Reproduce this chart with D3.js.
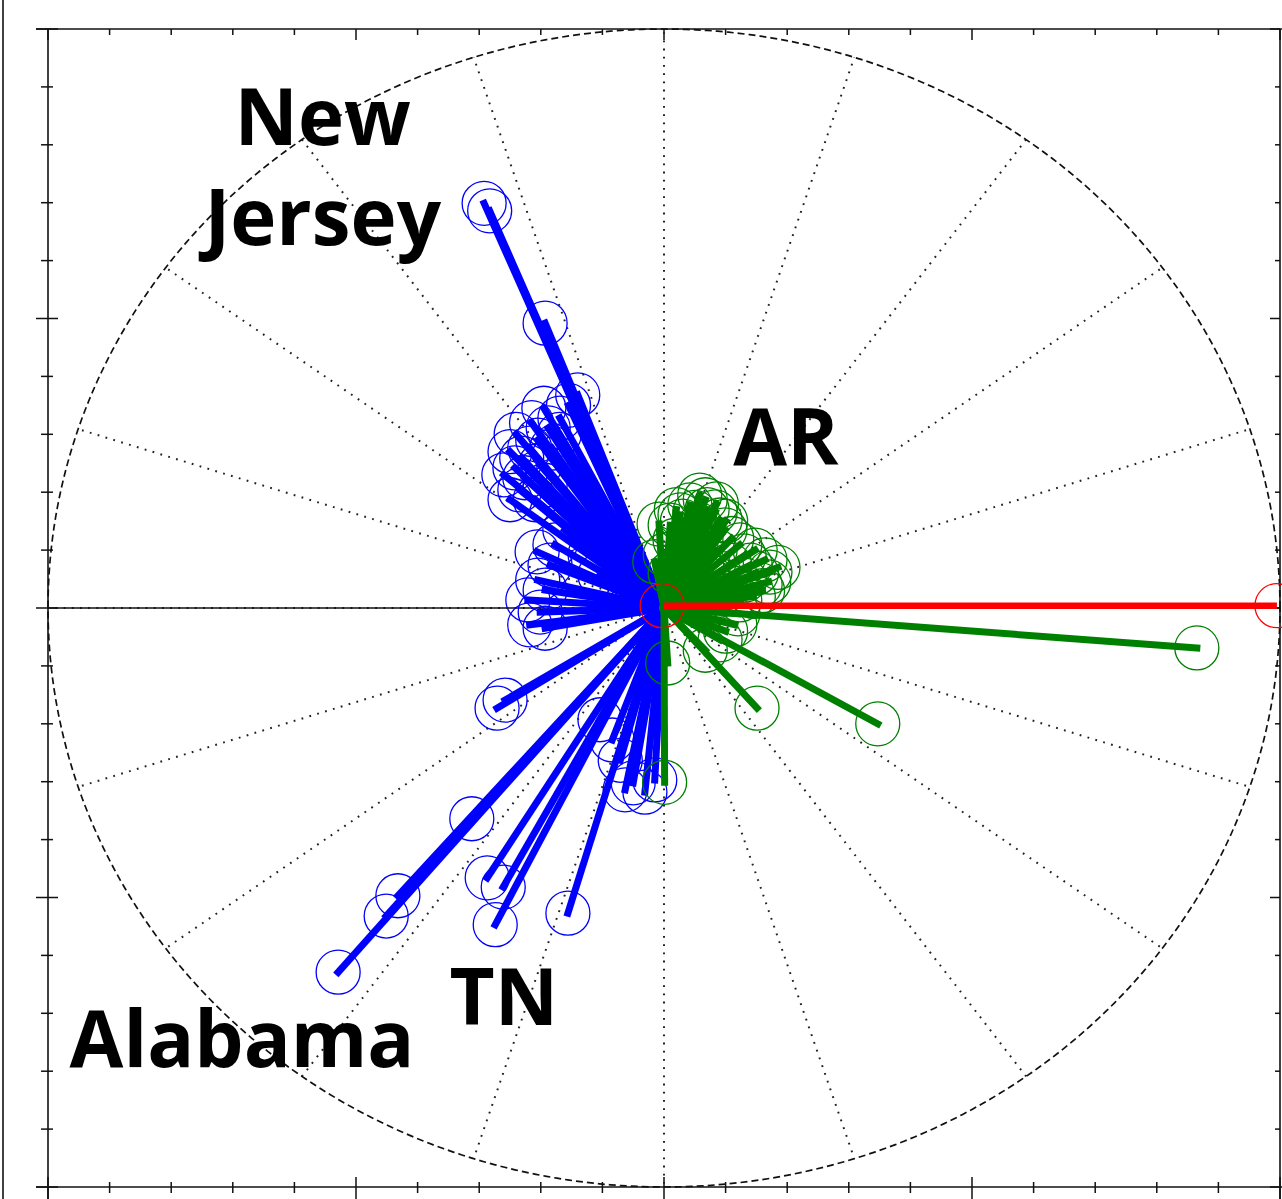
<!DOCTYPE html>
<html>
<head>
<meta charset="utf-8">
<script src="https://cdn.jsdelivr.net/npm/d3@7"></script>
<style>
  html, body { margin: 0; padding: 0; background: #fff; }
  svg { display: block; }
  .lbl { font-family: "Open Sans", "Noto Sans", sans-serif; font-weight: 700; fill: #000; }
</style>
</head>
<body>
<svg id="chart" width="1282" height="1199"></svg>
<script>
// Vector endpoints (unit-circle coordinates), one array per coordinate and group
const blueX = [-0.292,-0.283,-0.193,-0.140,-0.169,-0.188,-0.205,-0.218,-0.231,-0.242,-0.226,-0.201,-0.182,-0.234,-0.209,-0.193,-0.250,
               -0.240,-0.260,-0.250,-0.215,-0.195,-0.170,-0.155,
               -0.206,-0.185,-0.205,-0.193,-0.221,-0.201,-0.218,-0.193,-0.177,-0.161,-0.104,-0.120,
               -0.271,-0.258,-0.312,-0.432,-0.451,-0.529,-0.287,-0.261,-0.274,-0.156,-0.050,-0.031,-0.063,-0.084,-0.071,-0.015,-0.104];
const blueY = [ 0.699, 0.686, 0.492, 0.368, 0.328, 0.311, 0.290, 0.276, 0.259, 0.242, 0.225, 0.247, 0.276, 0.204, 0.187, 0.212, 0.187,
                0.300, 0.230, 0.270, 0.320, 0.345, 0.300, 0.350,
                0.097, 0.074, 0.048, 0.031, 0.014,-0.007,-0.029,-0.035, 0.109, 0.135, 0.057, 0.092,
               -0.173,-0.159,-0.364,-0.497,-0.532,-0.629,-0.466,-0.482,-0.547,-0.527,-0.302,-0.318,-0.314,-0.228,-0.263,-0.297,-0.193];

const greenX = [0.865, 0.347, 0.151, 0.001, 0.006, 0.115, 0.091, 0.067,
                0.042, 0.067, 0.026, 0.083, 0.058, 0.099, 0.042, 0.123, 0.148, 0.164, 0.172, 0.156, 0.131, 0.107,
                0.083, 0.018, 0.002, 0.034, 0.075, 0.091, 0.050, 0.123, 0.140, 0.010, 0.091, 0.058,
                0.020, 0.050, 0.070, 0.085, 0.030, 0.060, 0.100, 0.110, 0.130, 0.150, 0.160, 0.145,-0.008,-0.015,
                0.010, 0.120, 0.100, 0.170, 0.185];
const greenY = [-0.069,-0.200,-0.173,-0.301,-0.095,-0.029,-0.055,-0.073,
                 0.178, 0.187, 0.161, 0.166, 0.143, 0.135, 0.126, 0.109, 0.100, 0.083, 0.062, 0.040, 0.048, 0.074,
                 0.100, 0.117, 0.092, 0.083, 0.048, 0.022, 0.031, 0.014, 0.074, 0.143, 0.152, 0.195,
                 0.170, 0.165, 0.170, 0.180, 0.150, 0.120, 0.150, 0.120, 0.090, 0.060, 0.030, 0.020, 0.145, 0.080,
                 0.060,-0.010,-0.040, 0.045, 0.070];

const redX = [0.995];
const redY = [0.004];

// Reference grid: radial spokes every 18 degrees on the unit circle
const spokeAngles = d3.range(0, 360, 18);

const labels = [
  { text: "New",    x: -0.554, y: 0.800 },
  { text: "Jersey", x: -0.554, y: 0.627 },
  { text: "AR",     x:  0.198, y: 0.247 },
  { text: "TN",     x: -0.260, y: -0.720 },
  { text: "Alabama",x: -0.685, y: -0.793 }
];

const svg = d3.select("#chart");
const x = d3.scaleLinear().domain([-1, 1]).range([48, 1280]);
const y = d3.scaleLinear().domain([-1, 1]).range([1187, 29]);
const ink = "#111";

// outer page border
svg.append("line").attr("x1", 3).attr("x2", 3).attr("y1", 0).attr("y2", 1199)
  .attr("stroke", ink).attr("stroke-width", 1.6);

// axes frame
svg.append("line").attr("x1", 36).attr("x2", 1282).attr("y1", y(1)).attr("y2", y(1)).attr("stroke", ink).attr("stroke-width", 1.6);
svg.append("line").attr("x1", 36).attr("x2", 1282).attr("y1", y(-1)).attr("y2", y(-1)).attr("stroke", ink).attr("stroke-width", 1.6);
svg.append("line").attr("x1", x(-1)).attr("x2", x(-1)).attr("y1", y(1)).attr("y2", 1199).attr("stroke", ink).attr("stroke-width", 1.6);
svg.append("line").attr("x1", x(1)).attr("x2", x(1)).attr("y1", y(1)).attr("y2", 1199).attr("stroke", ink).attr("stroke-width", 1.6);

const tickVals = d3.range(-10, 11).map(d => d / 10);
const isMajor = v => Math.abs(Math.round(v * 10)) % 5 === 0;
const ticks = svg.append("g").attr("stroke", ink).attr("stroke-width", 1.5);
tickVals.forEach(v => {
  const m = isMajor(v);
  // top (inward)
  ticks.append("line").attr("x1", x(v)).attr("x2", x(v)).attr("y1", y(1)).attr("y2", y(1) + (m ? 11 : 6));
  // bottom (crossing)
  ticks.append("line").attr("x1", x(v)).attr("x2", x(v)).attr("y1", y(-1) - (m ? 10 : 5)).attr("y2", y(-1) + (m ? 12 : 6));
  // left (crossing)
  ticks.append("line").attr("y1", y(v)).attr("y2", y(v)).attr("x1", x(-1) - (m ? 12 : 7)).attr("x2", x(-1) + (m ? 10 : 5));
  // right (inward)
  ticks.append("line").attr("y1", y(v)).attr("y2", y(v)).attr("x1", x(1)).attr("x2", x(1) - (m ? 10 : 5));
});

// dotted spokes
const grid = svg.append("g");
spokeAngles.forEach(a => {
  const r = a * Math.PI / 180;
  grid.append("line")
    .attr("x1", x(0)).attr("y1", y(0))
    .attr("x2", x(Math.cos(r))).attr("y2", y(Math.sin(r)))
    .attr("stroke", "#222").attr("stroke-width", 2)
    .attr("stroke-dasharray", "1.8 6.4");
});

// dashed unit circle
const circ = d3.range(0, 361).map(a => [Math.cos(a * Math.PI / 180), Math.sin(a * Math.PI / 180)]);
grid.append("path")
  .attr("d", d3.line().x(d => x(d[0])).y(d => y(d[1]))(circ))
  .attr("fill", "none").attr("stroke", "#111").attr("stroke-width", 1.7)
  .attr("stroke-dasharray", "7 4");

// horizontal zero axis
svg.append("line").attr("x1", x(-1)).attr("x2", x(1)).attr("y1", y(0)).attr("y2", y(0))
  .attr("stroke", ink).attr("stroke-width", 1.5);

function drawGroup(xs, ys, color) {
  const pts = xs.map((v, i) => [v, ys[i]]);
  const g = svg.append("g");
  g.selectAll("line").data(pts).join("line")
    .attr("x1", x(0)).attr("y1", y(0))
    .attr("x2", d => x(d[0])).attr("y2", d => y(d[1]))
    .attr("stroke", color).attr("stroke-width", 7).attr("stroke-linecap", "square");
  g.selectAll("circle").data(pts).join("circle")
    .attr("cx", d => x(d[0])).attr("cy", d => y(d[1])).attr("r", 22)
    .attr("fill", "none").attr("stroke", color).attr("stroke-width", 1.3);
}
drawGroup(blueX, blueY, "#0000ff");
drawGroup(greenX, greenY, "#008000");

// reference vector and origin marker
const red = svg.append("g");
red.append("line").attr("x1", x(0)).attr("y1", y(redY[0])).attr("x2", x(redX[0])).attr("y2", y(redY[0]))
  .attr("stroke", "#ff0000").attr("stroke-width", 6.5);
red.append("circle").attr("cx", x(redX[0])).attr("cy", y(redY[0])).attr("r", 22)
  .attr("fill", "none").attr("stroke", "#ff0000").attr("stroke-width", 1.3);
red.append("circle").attr("cx", x(-0.003)).attr("cy", y(0.004)).attr("r", 22)
  .attr("fill", "none").attr("stroke", "#ff0000").attr("stroke-width", 1.3);

// state labels
svg.selectAll("text.lbl").data(labels).join("text")
  .attr("class", "lbl")
  .attr("x", d => x(d.x)).attr("y", d => y(d.y))
  .attr("text-anchor", "middle")
  .attr("font-size", 78)
  .text(d => d.text);
</script>
</body>
</html>
